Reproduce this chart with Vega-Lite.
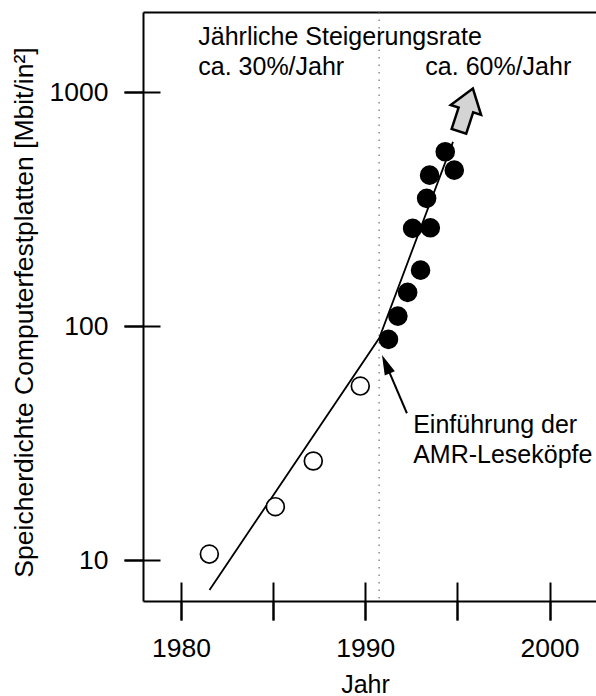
{
  "$schema": "https://vega.github.io/schema/vega-lite/v6.json",
  "width": 453,
  "height": 589,
  "autosize": {"type": "none"},
  "padding": {"left": 143, "top": 12, "right": 0, "bottom": 95},
  "background": "white",
  "config": {
    "view": {"stroke": null},
    "font": "Liberation Sans",
    "axis": {"grid": false, "labelColor": "black", "titleColor": "black", "domainColor": "black", "tickColor": "black"}
  },
  "datasets": {
    "punkte": [
      {"jahr": 1981.54, "dichte": 10.6, "kopf": "induktiv"},
      {"jahr": 1985.12, "dichte": 16.9, "kopf": "induktiv"},
      {"jahr": 1987.18, "dichte": 26.5, "kopf": "induktiv"},
      {"jahr": 1989.73, "dichte": 55.4, "kopf": "induktiv"},
      {"jahr": 1991.26, "dichte": 87.7, "kopf": "AMR"},
      {"jahr": 1991.77, "dichte": 110.3, "kopf": "AMR"},
      {"jahr": 1992.30, "dichte": 139.3, "kopf": "AMR"},
      {"jahr": 1993.00, "dichte": 173.4, "kopf": "AMR"},
      {"jahr": 1992.57, "dichte": 261.5, "kopf": "AMR"},
      {"jahr": 1993.53, "dichte": 263.0, "kopf": "AMR"},
      {"jahr": 1993.33, "dichte": 351.4, "kopf": "AMR"},
      {"jahr": 1993.49, "dichte": 441.6, "kopf": "AMR"},
      {"jahr": 1994.83, "dichte": 464.0, "kopf": "AMR"},
      {"jahr": 1994.34, "dichte": 556.0, "kopf": "AMR"}
    ],
    "trend": [
      {"jahr": 1981.55, "dichte": 7.45},
      {"jahr": 1990.76, "dichte": 88.9},
      {"jahr": 1994.76, "dichte": 613}
    ],
    "texte": [
      {"text": "Jährliche Steigerungsrate", "jahr": 1980.94, "dichte": 1589},
      {"text": "ca. 30%/Jahr", "jahr": 1980.94, "dichte": 1182},
      {"text": "ca. 60%/Jahr", "jahr": 1993.26, "dichte": 1182},
      {"text": "Einführung der", "jahr": 1992.60, "dichte": 34.9},
      {"text": "AMR-Leseköpfe", "jahr": 1992.60, "dichte": 25.97}
    ],
    "pfeil": [
      {"jahr": 1992.26, "dichte": 42.4, "jahr2": 1991.12, "dichte2": 68.7}
    ]
  },
  "layer": [
    {
      "data": {"name": "trend"},
      "mark": {"type": "line", "color": "black", "strokeWidth": 1.8},
      "encoding": {
        "x": {
          "field": "jahr", "type": "quantitative",
          "scale": {"domain": [1977.94, 2002.52], "nice": false, "zero": false},
          "axis": {
            "orient": "bottom", "values": [1980, 1985, 1990, 1995, 2000],
            "domain": false, "labels": false, "title": null,
            "ticks": true, "tickSize": 38, "tickWidth": 2, "offset": -19
          }
        },
        "y": {
          "field": "dichte", "type": "quantitative",
          "scale": {"type": "log", "domain": [6.68, 2200], "nice": false},
          "axis": {
            "orient": "left", "values": [10, 100, 1000],
            "domain": false, "labels": false, "title": null,
            "ticks": true, "tickSize": 36, "tickWidth": 2, "offset": -17
          }
        }
      }
    },
    {
      "data": {"values": [{}]},
      "mark": {"type": "rule", "color": "#555555", "strokeWidth": 1, "strokeDash": [1.5, 6]},
      "encoding": {
        "x": {
          "datum": 1990.75, "type": "quantitative",
          "axis": {
            "orient": "top", "domain": true, "domainWidth": 2,
            "ticks": false, "labels": false, "title": null, "values": []
          }
        }
      }
    },
    {
      "data": {"name": "punkte"},
      "mark": {"type": "point", "shape": "circle", "size": 320, "stroke": "black", "strokeWidth": 1.7, "opacity": 1, "filled": false},
      "encoding": {
        "x": {
          "field": "jahr", "type": "quantitative",
          "axis": {
            "orient": "bottom", "values": [1980, 1985, 1990, 1995, 2000],
            "format": "d",
            "labelExpr": "datum.value % 10 == 0 ? datum.label : ''",
            "domain": true, "domainWidth": 2,
            "ticks": true, "tickSize": 19, "tickWidth": 2,
            "labelFont": "Liberation Sans", "labelFontSize": 26.5, "labelPadding": 15,
            "labelFlush": false, "labelOverlap": false,
            "title": "Jahr", "titleFont": "Liberation Sans", "titleFontSize": 25,
            "titleFontWeight": "normal", "titleX": 222, "titleY": 71
          }
        },
        "y": {
          "field": "dichte", "type": "quantitative",
          "axis": {
            "orient": "left", "values": [10, 100, 1000], "format": "d",
            "domain": true, "domainWidth": 2,
            "ticks": true, "tickSize": 19, "tickWidth": 2,
            "labelFont": "Liberation Sans", "labelFontSize": 26.5, "labelPadding": 16,
            "labelFlush": false, "labelOverlap": false,
            "title": "Speicherdichte Computerfestplatten [Mbit/in²]",
            "titleFont": "Liberation Sans", "titleFontSize": 26.5, "titleFontWeight": "normal",
            "titleX": -105, "titleY": 300
          }
        },
        "fill": {
          "field": "kopf", "type": "nominal",
          "scale": {"domain": ["induktiv", "AMR"], "range": ["white", "black"]},
          "legend": null
        }
      }
    },
    {
      "data": {"name": "texte"},
      "mark": {"type": "text", "align": "left", "baseline": "alphabetic", "font": "Liberation Sans", "fontSize": 25, "color": "black"},
      "encoding": {
        "x": {"field": "jahr", "type": "quantitative", "axis": null},
        "y": {"field": "dichte", "type": "quantitative", "axis": null},
        "text": {"field": "text"}
      }
    },
    {
      "data": {"name": "pfeil"},
      "mark": {"type": "rule", "color": "black", "strokeWidth": 2},
      "encoding": {
        "x": {"field": "jahr", "type": "quantitative", "axis": null},
        "y": {"field": "dichte", "type": "quantitative", "axis": null},
        "x2": {"field": "jahr2"},
        "y2": {"field": "dichte2"}
      }
    },
    {
      "data": {"values": [{}]},
      "mark": {"type": "point", "shape": "M0,-1L0.55,1L-0.55,1Z", "size": 400, "angle": 337, "filled": true, "fill": "black", "strokeWidth": 0, "opacity": 1},
      "encoding": {
        "x": {"datum": 1991.12, "type": "quantitative", "axis": null},
        "y": {"datum": 68.7, "type": "quantitative", "axis": null}
      }
    },
    {
      "data": {"values": [{}]},
      "mark": {"type": "point", "shape": "M0,-1L0.71,0L0.34,0L0.34,1L-0.34,1L-0.34,0L-0.71,0Z", "size": 2025, "angle": 18, "filled": true, "fill": "#d4d4d4", "stroke": "black", "strokeWidth": 2.5, "opacity": 1},
      "encoding": {
        "x": {"datum": 1995.46, "type": "quantitative", "axis": null},
        "y": {"datum": 839.5, "type": "quantitative", "axis": null}
      }
    }
  ],
  "resolve": {"axis": {"x": "independent", "y": "independent"}}
}
